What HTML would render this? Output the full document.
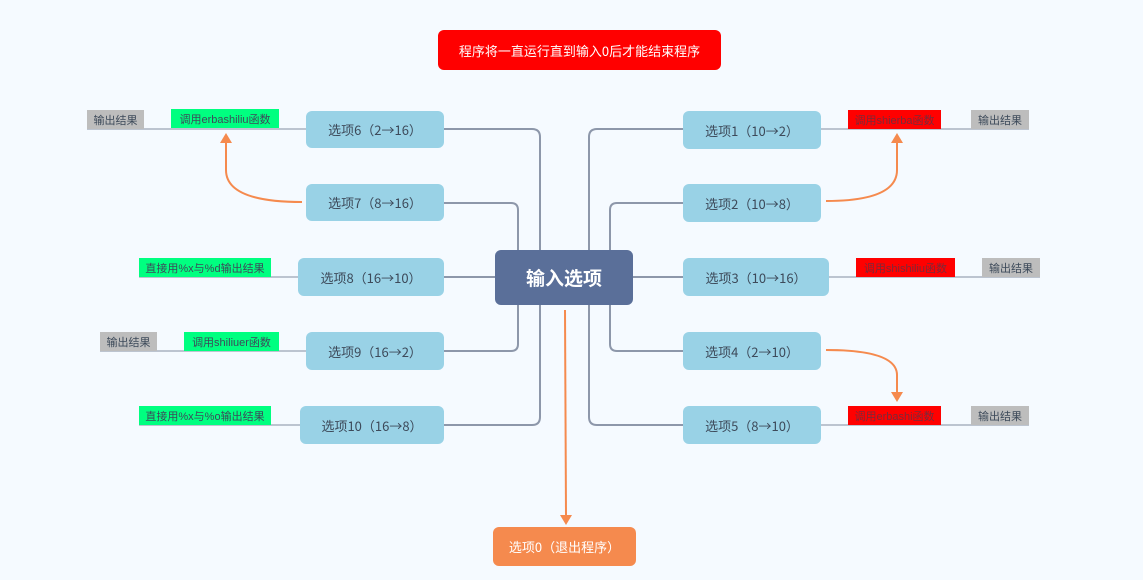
<!DOCTYPE html>
<html><head><meta charset="utf-8"><style>
body{margin:0;width:1143px;height:580px;background:#f5faff;position:relative;overflow:hidden;font-family:"Liberation Sans","Noto Sans CJK SC",sans-serif}
.n{position:absolute;background:#99d2e6;border-radius:6px;color:#3d4a5a;font-size:13px;display:flex;align-items:center;justify-content:center;font-family:"Noto Sans CJK SC","Liberation Sans",sans-serif}
.l{position:absolute;font-size:11px;color:#3d4a5a;display:flex;align-items:center;justify-content:center;height:19px}
.g{background:#bdbdbd}.gr{background:#00ff80}.r{background:#ff0000;color:#7a2a3a}
</style></head><body>
<svg width="1143" height="580" style="position:absolute;left:0;top:0">
<g fill="none" stroke="#8d97aa" stroke-width="2">
<path d="M444 129H532Q540 129 540 137V250"/>
<path d="M444 425H532Q540 425 540 417V305"/>
<path d="M444 203H511Q518 203 518 210V250"/>
<path d="M444 351H511Q518 351 518 344V305"/>
<path d="M444 277H495"/>
<path d="M683 129H597Q589 129 589 137V250"/>
<path d="M683 425H597Q589 425 589 417V305"/>
<path d="M683 203H617Q610 203 610 210V250"/>
<path d="M683 351H617Q610 351 610 344V305"/>
<path d="M633 277H683"/>
</g>
<g fill="none" stroke="#9aa3b3" stroke-width="1.2">
<path d="M87 129H306"/><path d="M139 277H298"/><path d="M100 351H306"/><path d="M139 425H300"/>
<path d="M821 129H1029"/><path d="M829 277H1040"/><path d="M821 425H1029"/>
</g>
<g fill="none" stroke="#f58a4e" stroke-width="2">
<path d="M302 202Q226 202 226 170V142"/>
<path d="M826 201Q897 201 897 170V142"/>
<path d="M826 350Q897 350 897 375V393"/>
<path d="M565 310L566 516"/>
</g>
<g fill="#f58a4e">
<path d="M220 143L226 133L232 143Z"/><path d="M891 143L897 133L903 143Z"/>
<path d="M891 392L897 402L903 392Z"/><path d="M560 515L566 525L572 515Z"/>
</g>
</svg>
<div class="n" style="left:438px;top:30px;width:283px;height:40px;background:#ff0000;color:#fff;border-radius:6px">程序将一直运行直到输入0后才能结束程序</div>
<div class="n" style="left:495px;top:250px;width:138px;height:55px;background:#5a6f99;color:#fff;font-size:19px;font-weight:bold">输入选项</div>
<div class="n" style="left:493px;top:527px;width:143px;height:39px;background:#f58a4e;color:#fff">选项0（退出程序）</div>
<div class="n" style="left:306px;top:111px;width:138px;height:37px">选项6（2→16）</div>
<div class="n" style="left:306px;top:184px;width:138px;height:37px">选项7（8→16）</div>
<div class="n" style="left:298px;top:258px;width:146px;height:38px">选项8（16→10）</div>
<div class="n" style="left:306px;top:332px;width:138px;height:38px">选项9（16→2）</div>
<div class="n" style="left:300px;top:406px;width:144px;height:38px">选项10（16→8）</div>
<div class="n" style="left:683px;top:111px;width:138px;height:38px">选项1（10→2）</div>
<div class="n" style="left:683px;top:184px;width:138px;height:38px">选项2（10→8）</div>
<div class="n" style="left:683px;top:258px;width:146px;height:38px">选项3（10→16）</div>
<div class="n" style="left:683px;top:332px;width:138px;height:38px">选项4（2→10）</div>
<div class="n" style="left:683px;top:406px;width:138px;height:38px">选项5（8→10）</div>
<div class="l g" style="left:87px;top:110px;width:57px">输出结果</div>
<div class="l gr" style="left:171px;top:109px;width:108px">调用erbashiliu函数</div>
<div class="l gr" style="left:139px;top:258px;width:132px">直接用%x与%d输出结果</div>
<div class="l g" style="left:100px;top:332px;width:57px">输出结果</div>
<div class="l gr" style="left:184px;top:332px;width:95px">调用shiliuer函数</div>
<div class="l gr" style="left:139px;top:406px;width:132px">直接用%x与%o输出结果</div>
<div class="l r" style="left:848px;top:110px;width:93px">调用shierba函数</div>
<div class="l g" style="left:971px;top:110px;width:58px">输出结果</div>
<div class="l r" style="left:856px;top:258px;width:99px">调用shishiliu函数</div>
<div class="l g" style="left:982px;top:258px;width:58px">输出结果</div>
<div class="l r" style="left:848px;top:406px;width:93px">调用erbashi函数</div>
<div class="l g" style="left:971px;top:406px;width:58px">输出结果</div>
</body></html>
